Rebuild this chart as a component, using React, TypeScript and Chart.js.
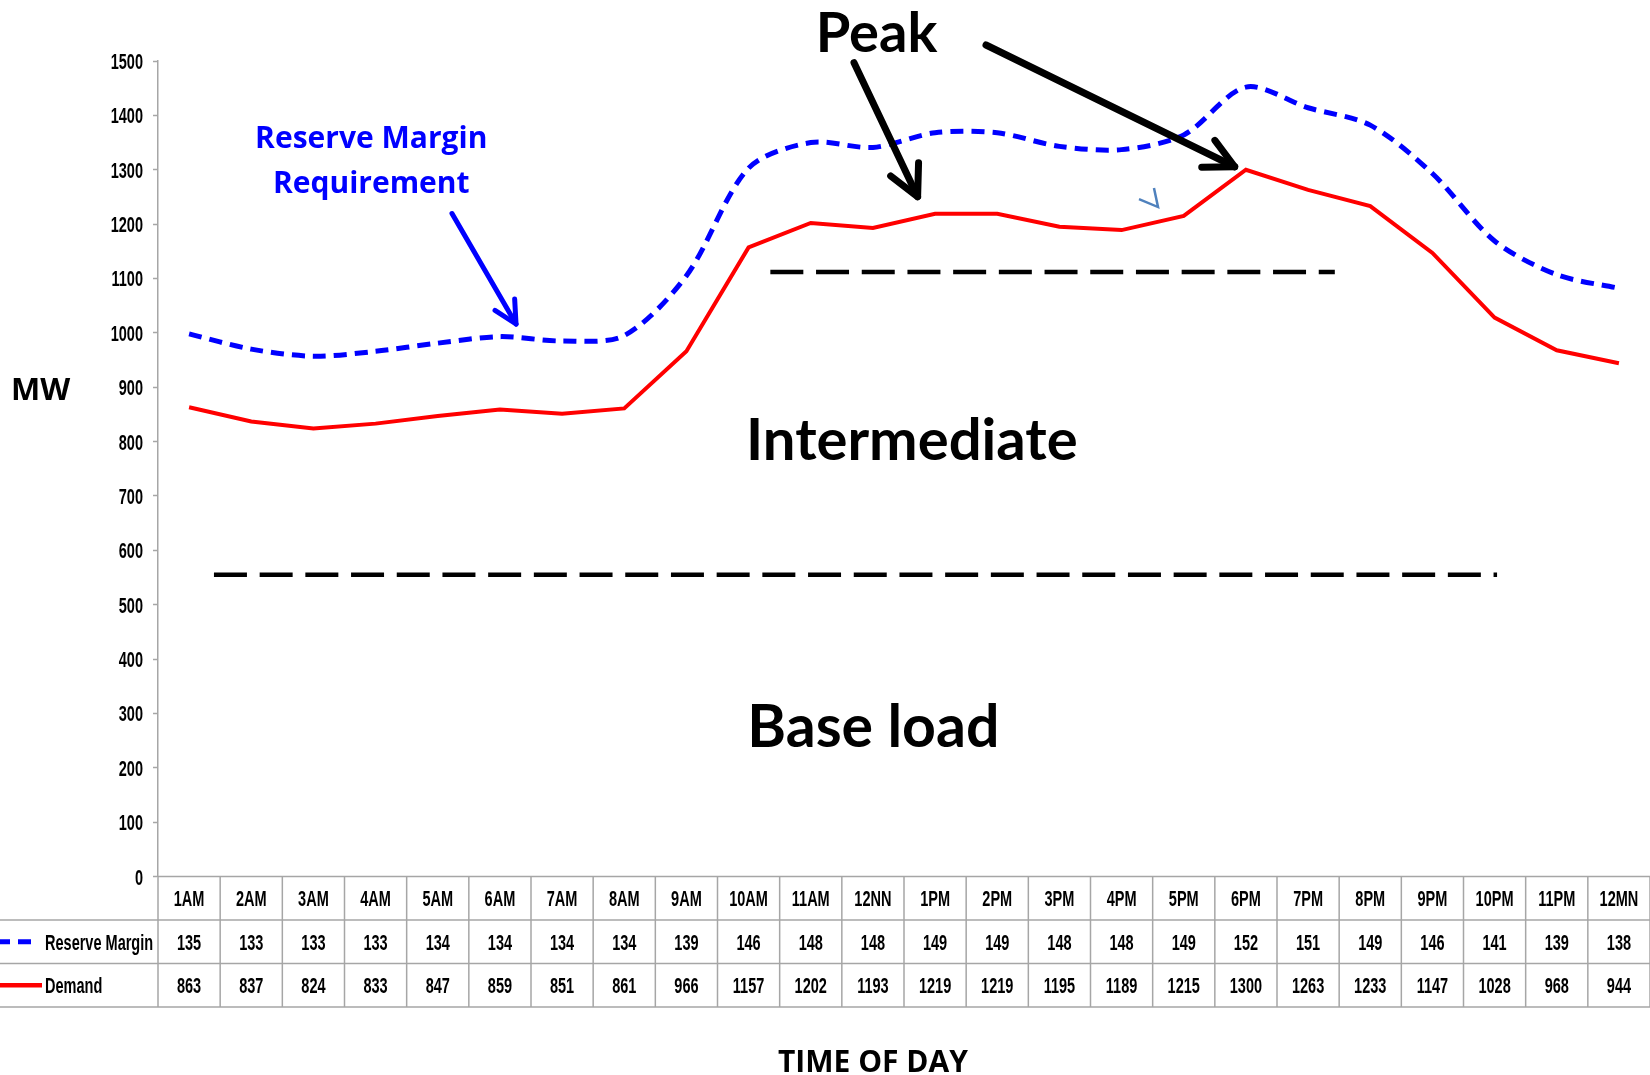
import React, { useEffect, useRef } from 'react';
import { Chart, registerables } from 'chart.js';

Chart.register(...registerables);

// ---------- data ----------
const hours = ['1AM', '2AM', '3AM', '4AM', '5AM', '6AM', '7AM', '8AM', '9AM', '10AM', '11AM', '12NN',
  '1PM', '2PM', '3PM', '4PM', '5PM', '6PM', '7PM', '8PM', '9PM', '10PM', '11PM', '12MN'];
const reserveMargin = [135, 133, 133, 133, 134, 134, 134, 134, 139, 146, 148, 148, 149, 149, 148, 148, 149, 152, 151, 149, 146, 141, 139, 138];
const demand = [863, 837, 824, 833, 847, 859, 851, 861, 966, 1157, 1202, 1193, 1219, 1219, 1195, 1189, 1215, 1300, 1263, 1233, 1147, 1028, 968, 944];
const yMin = 0;
const yMax = 1500;
const yStep = 100;
// dashed level lines (x in category-index units, y in MW)
const intermediateLevel = [{ x: 9.35, y: 1112 }, { x: 18.43, y: 1112 }];
const baseLevel = [{ x: 0.4, y: 555 }, { x: 21.04, y: 555 }];

// annotations, anchored in data units (category index, MW)
const arrowsData = [
  { from: [4.229, 1219.5], to: [5.259, 1016.2], color: '#0000ff', width: 5, head: 25 },
  { from: [10.696, 1496.8], to: [11.719, 1250.4], color: '#000000', width: 7, head: 34 },
  { from: [12.819, 1529.4], to: [16.82, 1305.5], color: '#000000', width: 7, head: 33 },
];
const textNotes = [
  { text: 'Peak', x: 10.08, y: 1516, align: 'left', font: '700 56px Lato', color: '#000' },
  { text: 'Intermediate', x: 8.96, y: 766, align: 'left', font: '700 58px Lato', color: '#000' },
  { text: 'Base load', x: 8.98, y: 238, align: 'left', font: '700 59px Lato', color: '#000' },
  { text: 'Reserve Margin', x: 2.93, y: 1340, align: 'center', font: '700 30px "Open Sans"', color: '#0000ff' },
  { text: 'Requirement', x: 2.93, y: 1257, align: 'center', font: '700 30px "Open Sans"', color: '#0000ff' },
];
const chevron = [[15.521, 1266.3], [15.586, 1231.4], [15.28, 1246.1]];

const SMALL_FONT = '700 22px "Liberation Sans", Arial, sans-serif';
const SQUEEZE = 0.66;

function squeezedText(ctx: CanvasRenderingContext2D, text: string, x: number, y: number, align: CanvasTextAlign) {
  ctx.save();
  ctx.translate(x, y);
  ctx.scale(SQUEEZE, 1);
  ctx.textAlign = align;
  ctx.textBaseline = 'alphabetic';
  ctx.fillText(text, 0, 0);
  ctx.restore();
}

function drawArrow(ctx: CanvasRenderingContext2D, x1: number, y1: number, x2: number, y2: number, color: string, w: number, head: number) {
  const ang = Math.atan2(y2 - y1, x2 - x1);
  const spread = (27 * Math.PI) / 180;
  ctx.save();
  ctx.strokeStyle = color;
  ctx.lineWidth = w;
  ctx.lineCap = 'round';
  ctx.lineJoin = 'round';
  ctx.beginPath();
  ctx.moveTo(x1, y1);
  ctx.lineTo(x2, y2);
  ctx.stroke();
  ctx.beginPath();
  ctx.moveTo(x2 - head * Math.cos(ang - spread), y2 - head * Math.sin(ang - spread));
  ctx.lineTo(x2, y2);
  ctx.lineTo(x2 - head * Math.cos(ang + spread), y2 - head * Math.sin(ang + spread));
  ctx.stroke();
  ctx.restore();
}

const overlayPlugin = {
  id: 'overlay',
  afterDraw(chart: any) {
    const ctx: CanvasRenderingContext2D = chart.ctx;
    const xl = chart.scales.xl;
    const ys = chart.scales.y;
    const px = (v: number) => xl.getPixelForValue(v);
    const py = (v: number) => ys.getPixelForValue(v);
    const W = chart.width;
    const area = chart.chartArea;
    const capHalf = 8;

    // ---- y tick labels (from the scale's own ticks) ----
    ctx.save();
    ctx.fillStyle = '#000';
    ctx.font = SMALL_FONT;
    ys.ticks.forEach((t: any) => {
      squeezedText(ctx, String(t.value), area.left - 15, py(t.value) + capHalf, 'right');
    });
    ctx.restore();

    // ---- data table ----
    const rowH = 43.5;
    const t0 = area.bottom;
    const r1 = t0 + rowH;
    const r2 = r1 + rowH;
    const r3 = r2 + rowH;
    ctx.save();
    ctx.strokeStyle = '#a6a6a6';
    ctx.lineWidth = 1.5;
    ctx.beginPath();
    ctx.moveTo(area.left, t0);
    ctx.lineTo(W, t0);
    [r1, r2, r3].forEach((yy) => {
      ctx.moveTo(0, yy);
      ctx.lineTo(W, yy);
    });
    for (let i = 0; i <= hours.length; i++) {
      const xx = px(i - 0.5);
      ctx.moveTo(xx, t0);
      ctx.lineTo(xx, r3);
    }
    ctx.stroke();
    ctx.restore();

    ctx.save();
    ctx.fillStyle = '#000';
    ctx.font = SMALL_FONT;
    hours.forEach((h, i) => {
      const cx = px(i);
      squeezedText(ctx, h, cx, (t0 + r1) / 2 + capHalf, 'center');
      squeezedText(ctx, String(reserveMargin[i]), cx, (r1 + r2) / 2 + capHalf, 'center');
      squeezedText(ctx, String(demand[i]), cx, (r2 + r3) / 2 + capHalf, 'center');
    });
    squeezedText(ctx, 'Reserve Margin', 45, (r1 + r2) / 2 + capHalf, 'left');
    squeezedText(ctx, 'Demand', 45, (r2 + r3) / 2 + capHalf, 'left');
    ctx.restore();

    // legend keys
    ctx.save();
    ctx.strokeStyle = '#0000ff';
    ctx.lineWidth = 5;
    ctx.setLineDash([13, 8]);
    ctx.beginPath();
    ctx.moveTo(-3, (r1 + r2) / 2);
    ctx.lineTo(32, (r1 + r2) / 2);
    ctx.stroke();
    ctx.setLineDash([]);
    ctx.strokeStyle = '#ff0000';
    ctx.lineWidth = 4.5;
    ctx.beginPath();
    ctx.moveTo(0, (r2 + r3) / 2);
    ctx.lineTo(42, (r2 + r3) / 2);
    ctx.stroke();
    ctx.restore();

    // ---- axis titles ----
    ctx.save();
    ctx.fillStyle = '#000';
    ctx.font = '700 30px "Open Sans", sans-serif';
    ctx.textAlign = 'center';
    ctx.textBaseline = 'alphabetic';
    ctx.fillText('TIME OF DAY', px(11), 1071.5);
    ctx.textAlign = 'left';
    ctx.font = '700 31px "Open Sans", sans-serif';
    ctx.fillText('MW', 11, 400);
    ctx.restore();

    // ---- annotations ----
    textNotes.forEach((n) => {
      ctx.save();
      ctx.fillStyle = n.color;
      ctx.font = n.font;
      ctx.textAlign = n.align as CanvasTextAlign;
      ctx.textBaseline = 'alphabetic';
      ctx.fillText(n.text, px(n.x), py(n.y));
      ctx.restore();
    });
    arrowsData.forEach((a) => {
      drawArrow(ctx, px(a.from[0]), py(a.from[1]), px(a.to[0]), py(a.to[1]), a.color, a.width, a.head);
    });
    ctx.save();
    ctx.strokeStyle = '#4f81bd';
    ctx.lineWidth = 2.5;
    ctx.beginPath();
    chevron.forEach((p, i) => {
      if (i === 0) ctx.moveTo(px(p[0]), py(p[1]));
      else ctx.lineTo(px(p[0]), py(p[1]));
    });
    ctx.stroke();
    ctx.restore();
  },
};

export default function App() {
  const ref = useRef<HTMLCanvasElement | null>(null);

  useEffect(() => {
    document.body.style.margin = '0';
    const canvas = ref.current;
    if (!canvas) return;
    const totalRequirement = demand.map((d, i) => d + reserveMargin[i]);
    const chart = new Chart(canvas, {
      type: 'line',
      data: {
        labels: hours,
        datasets: [
          {
            label: 'Reserve Margin',
            data: totalRequirement,
            borderColor: '#0000ff',
            borderWidth: 5,
            borderDash: [13, 8],
            tension: 0.3,
            pointRadius: 0,
            fill: false,
            xAxisID: 'x',
          },
          {
            label: 'Demand',
            data: demand,
            borderColor: '#ff0000',
            borderWidth: 4,
            tension: 0,
            pointRadius: 0,
            fill: false,
            xAxisID: 'x',
          },
          {
            label: 'Intermediate',
            data: intermediateLevel as any,
            borderColor: '#000000',
            borderWidth: 4.5,
            borderDash: [33, 12.7],
            pointRadius: 0,
            fill: false,
            xAxisID: 'xl',
          },
          {
            label: 'Base load',
            data: baseLevel as any,
            borderColor: '#000000',
            borderWidth: 4.5,
            borderDash: [33, 12.7],
            pointRadius: 0,
            fill: false,
            xAxisID: 'xl',
          },
        ],
      },
      options: {
        responsive: false,
        animation: false,
        layout: { padding: { top: 61, bottom: 198.5, left: 0, right: 0 } },
        plugins: { legend: { display: false }, tooltip: { enabled: false } },
        scales: {
          x: { type: 'category', display: false, offset: true },
          xl: { type: 'linear', display: false, min: -0.5, max: 23.5 },
          y: {
            min: yMin,
            max: yMax,
            ticks: { stepSize: yStep, display: false },
            grid: { drawOnChartArea: false, drawTicks: true, tickLength: 5, color: '#a6a6a6', tickColor: '#a6a6a6', tickWidth: 1.5 },
            border: { color: '#a6a6a6', width: 1.5 },
            afterFit: (s: any) => {
              s.width = 158;
            },
          },
        },
      },
      plugins: [overlayPlugin],
    });
    return () => chart.destroy();
  }, []);

  return (
    <div style={{ position: 'absolute', left: 0, top: 0, width: 1650, height: 1075, background: '#fff' }}>
      <canvas ref={ref} width={1650} height={1075} style={{ display: 'block', width: 1650, height: 1075 }} />
    </div>
  );
}
